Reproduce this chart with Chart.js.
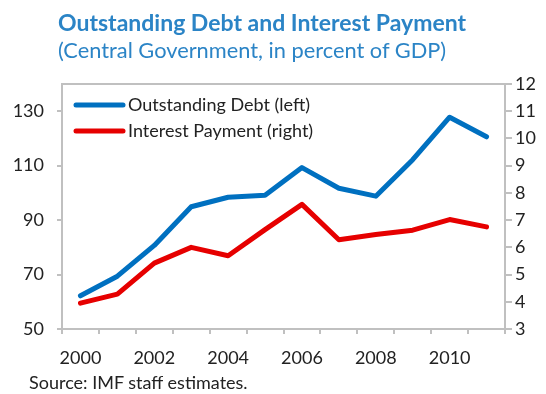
<!DOCTYPE html>
<html>
<head>
<meta charset="utf-8">
<script src="https://cdn.jsdelivr.net/npm/chart.js@4/dist/chart.umd.min.js"></script>
<style>
  body { margin: 0; background: #fff; }
  #wrap { position: relative; width: 546px; height: 394px; font-family: Lato, sans-serif; }
  #debtChart { position: absolute; left: 0; top: 0; }
  .title { position: absolute; left: 58px; top: 8px; font-size: 23px; font-weight: bold; color: #2b84c6; white-space: nowrap; }
  .subtitle { position: absolute; left: 58px; top: 36px; font-size: 21.8px; color: #2b84c6; white-space: nowrap; }
  .source { position: absolute; left: 29px; top: 371px; font-size: 18px; color: #222; white-space: nowrap; }
</style>
</head>
<body>
<div id="wrap">
  <canvas id="debtChart" width="546" height="394"></canvas>
  <div class="title">Outstanding Debt and Interest Payment</div>
  <div class="subtitle">(Central Government, in percent of GDP)</div>
  <div class="source">Source: IMF staff estimates.</div>
</div>
<script>
const years = ['2000', '2001', '2002', '2003', '2004', '2005', '2006', '2007', '2008', '2009', '2010', '2011'];
const outstandingDebt = [62.2, 69.4, 80.7, 94.9, 98.4, 99.1, 109.3, 101.7, 98.8, 112.2, 127.8, 120.6];
const interestPayment = [3.95, 4.28, 5.42, 6.0, 5.69, 6.65, 7.58, 6.28, 6.47, 6.63, 7.02, 6.75];
const leftTicks = [50, 70, 90, 110, 130];
const rightTicks = [3, 4, 5, 6, 7, 8, 9, 10, 11, 12];

const axisGrey = '#c0c0c0';
const textColor = '#222';
const tickFont = { family: 'Lato, sans-serif', size: 18 };

// box round the plot area + legend inside the plot
const framePlugin = {
  id: 'frame',
  afterDraw(chart) {
    const { ctx, chartArea } = chart;
    ctx.save();
    ctx.strokeStyle = axisGrey;
    ctx.lineWidth = 2;
    ctx.beginPath();
    ctx.moveTo(chartArea.left, chartArea.top);
    ctx.lineTo(chartArea.right, chartArea.top);
    ctx.stroke();

    ctx.font = '18px Lato, sans-serif';
    ctx.textBaseline = 'middle';
    chart.data.datasets.forEach((ds, i) => {
      const y = chartArea.top + 21 + i * 26;
      const x = chartArea.left + 14;
      ctx.strokeStyle = ds.borderColor;
      ctx.lineWidth = 5;
      ctx.lineCap = 'round';
      ctx.beginPath();
      ctx.moveTo(x, y);
      ctx.lineTo(x + 47, y);
      ctx.stroke();
      ctx.fillStyle = textColor;
      ctx.fillText(ds.label, x + 52, y);
    });
    ctx.restore();
  }
};

new Chart(document.getElementById('debtChart'), {
  type: 'line',
  data: {
    labels: years,
    datasets: [
      {
        label: 'Outstanding Debt (left)',
        data: outstandingDebt,
        borderColor: '#0070c0',
        yAxisID: 'yLeft'
      },
      {
        label: 'Interest Payment (right)',
        data: interestPayment,
        borderColor: '#e60000',
        yAxisID: 'yRight'
      }
    ]
  },
  options: {
    responsive: false,
    animation: false,
    layout: { padding: { top: 84, left: 0, right: 0, bottom: 0 } },
    elements: {
      line: { borderWidth: 5, borderJoinStyle: 'round', borderCapStyle: 'round', tension: 0 },
      point: { radius: 0 }
    },
    scales: {
      x: {
        offset: true,
        afterFit: (scale) => { scale.height = 65; },
        grid: { display: true, offset: true, drawOnChartArea: false, drawTicks: true, tickLength: 5, color: axisGrey, lineWidth: 2 },
        border: { color: axisGrey, width: 2 },
        ticks: {
          autoSkip: false,
          maxRotation: 0,
          padding: 13,
          color: textColor,
          font: tickFont,
          callback: (v, i) => (i % 2 === 0 ? years[i] : '')
        }
      },
      yLeft: {
        position: 'left',
        min: 50,
        max: 140,
        afterFit: (scale) => { scale.width = 62; },
        afterBuildTicks: (scale) => { scale.ticks = leftTicks.map(v => ({ value: v })); },
        grid: { display: true, drawOnChartArea: false, drawTicks: true, tickLength: 5, color: axisGrey, lineWidth: 2 },
        border: { color: axisGrey, width: 2 },
        ticks: { color: textColor, font: tickFont, padding: 13 }
      },
      yRight: {
        position: 'right',
        min: 3,
        max: 12,
        afterFit: (scale) => { scale.width = 41; },
        afterBuildTicks: (scale) => { scale.ticks = rightTicks.map(v => ({ value: v })); },
        grid: { display: true, drawOnChartArea: false, drawTicks: true, tickLength: 7, color: axisGrey, lineWidth: 2 },
        border: { color: axisGrey, width: 2 },
        ticks: { color: textColor, font: tickFont, padding: 3 }
      }
    },
    plugins: {
      legend: { display: false },
      tooltip: { enabled: false }
    }
  },
  plugins: [framePlugin]
});
</script>
</body>
</html>
